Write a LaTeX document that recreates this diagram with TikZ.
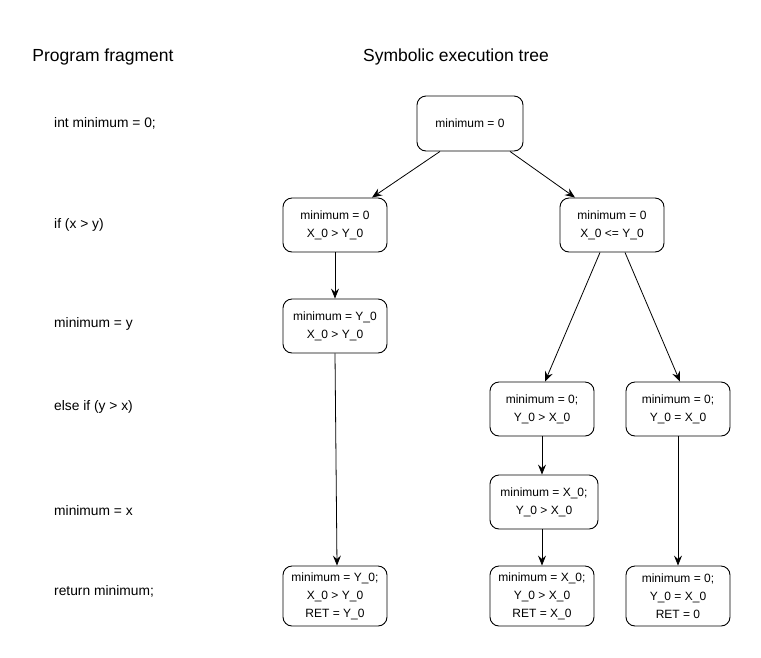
\documentclass[tikz,border=0pt]{standalone}
\usepackage{fontspec}
\setmainfont{Liberation Sans}
\usetikzlibrary{arrows.meta}

\begin{document}
\begin{tikzpicture}[x=1pt,y=-1pt,
  state/.style={draw, rounded corners=9pt, line width=0.9pt, align=center,
    minimum width=104pt, minimum height=54pt, inner sep=0pt,
    font=\fontsize{12}{18}\selectfont},
  code/.style={anchor=west, inner sep=0pt, font=\fontsize{13.8}{16}\selectfont},
  arr/.style={-{Stealth[length=10pt,width=8pt,inset=3.5pt]}, line width=0.8pt}]
\useasboundingbox (0,0) rectangle (761,657);
\node [anchor=center, font=\fontsize{17.5}{20}\selectfont] (ptitle) at (103,57) {Program fragment};
\node [anchor=center, font=\fontsize{17.5}{20}\selectfont] (ttitle) at (456,57) {Symbolic execution tree};
\node [code] (c1) at (54,123) {int minimum = 0;};
\node [code] (c2) at (54,225) {if (x > y)};
\node [code] (c3) at (54,324) {minimum = y};
\node [code] (c4) at (54,407) {else if (y > x)};
\node [code] (c5) at (54,511) {minimum = x};
\node [code] (c6) at (54,591) {return minimum;};
\node [state, minimum width=106pt, minimum height=55pt] (root) at (470,123.5) {minimum = 0};
\node [state] (l1) at (335,225) {minimum = 0\\X\_0 > Y\_0};
\node [state] (r1) at (612,225) {minimum = 0\\X\_0 <= Y\_0};
\node [state] (l2) at (335,326) {minimum = Y\_0\\X\_0 > Y\_0};
\node [state] (r2a) at (542,409) {minimum = 0;\\Y\_0 > X\_0};
\node [state] (r2b) at (678,409) {minimum = 0;\\Y\_0 = X\_0};
\node [state, minimum width=108pt] (r3a) at (544,502) {minimum = X\_0;\\Y\_0 > X\_0};
\node [state, minimum height=60pt] (l3) at (335,596) {minimum = Y\_0;\\X\_0 > Y\_0\\RET = Y\_0};
\node [state, minimum height=60pt] (r4a) at (542,596) {minimum = X\_0;\\Y\_0 > X\_0\\RET = X\_0};
\node [state, minimum height=60pt] (r4b) at (678,596) {minimum = 0;\\Y\_0 = X\_0\\RET = 0};
\draw [arr] ([xshift=-30pt]root.south) -- ([xshift=37pt]l1.north);
\draw [arr] ([xshift=40pt]root.south) -- ([xshift=-37pt]r1.north);
\draw [arr] (l1.south) -- (l2.north);
\draw [arr] ([xshift=-12pt]r1.south) -- ([xshift=3pt]r2a.north);
\draw [arr] ([xshift=13pt]r1.south) -- ([xshift=2pt]r2b.north);
\draw [arr] (l2.south) -- ([xshift=2pt]l3.north);
\draw [arr] (r2a.south) -- ([xshift=-2pt]r3a.north);
\draw [arr] ([xshift=-2pt]r3a.south) -- (r4a.north);
\draw [arr] (r2b.south) -- (r4b.north);
\end{tikzpicture}
\end{document}
